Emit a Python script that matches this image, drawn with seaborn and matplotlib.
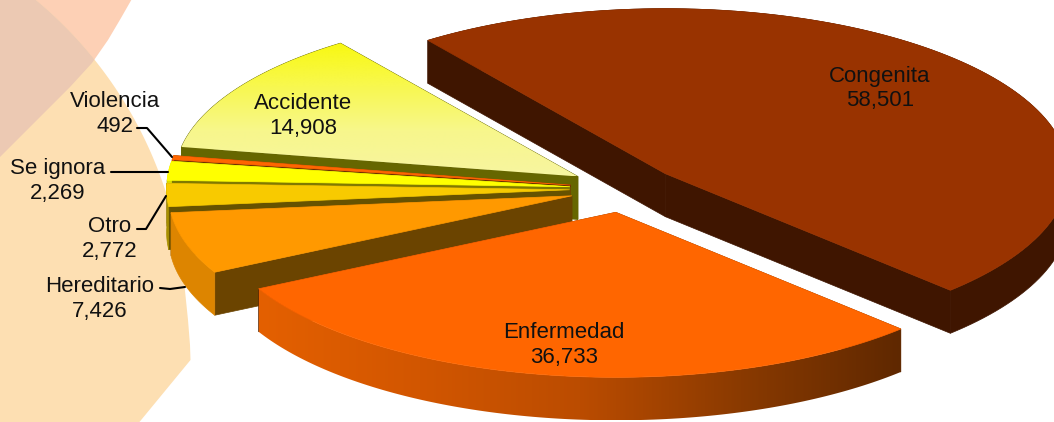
import numpy as np
import matplotlib
matplotlib.use("Agg")
import matplotlib.pyplot as plt
from matplotlib.colors import LinearSegmentedColormap
from matplotlib.patches import Polygon
import seaborn as sns

# slices, clockwise from the big one
categories = ["Congenita", "Enfermedad", "Hereditario", "Otro", "Se ignora", "Violencia", "Accidente"]
values = [58501, 36733, 7426, 2772, 2269, 492, 14908]

top_colors = ["#993300", "#ff6600", "#ff9900", "#f8ca00", "#ffff00", "#ff6600", "#ffff66"]
radial_colors = ["#3f1500", "#662b00", "#6b4400", "#665200", "#807a00", "#662b00", "#666600"]
arc_colors = ["#3f1500", "#dd5c00", "#dd8500", "#a89000", "#dcdc00", "#dd5800", "#666600"]

# back to front
draw_order = ["Congenita", "Accidente", "Violencia", "Se ignora", "Otro", "Hereditario", "Enfermedad"]

# pie geometry in pixels
CX, CY = 624, 189
RX, RY = 403, 165
DEPTH = 43
EXPLODE_X, EXPLODE_Y = 0.135, 0.143
START = 126.1

sns.set_theme(style="white")
plt.rcParams["font.family"] = ["Liberation Sans", "DejaVu Sans"]

fig = plt.figure(figsize=(10.54, 4.22), dpi=100)
ax = fig.add_axes([0, 0, 1, 1])
ax.set_xlim(0, 1054)
ax.set_ylim(422, 0)
ax.set_axis_off()


def gradient_fill(poly, colors, horizontal, zorder):
    poly = np.asarray(poly)
    x0, x1 = poly[:, 0].min(), poly[:, 0].max()
    y0, y1 = poly[:, 1].min(), poly[:, 1].max()
    ramp = np.linspace(0, 1, 256)
    grad = ramp[None, :] if horizontal else ramp[:, None]
    cmap = LinearSegmentedColormap.from_list("g", colors)
    im = ax.imshow(grad, extent=(x0, x1, y1, y0), aspect="auto", cmap=cmap,
                   zorder=zorder, interpolation="bilinear")
    clip = Polygon(poly, transform=ax.transData, fc="none", ec="none")
    ax.add_patch(clip)
    im.set_clip_path(clip)
    ax.set_xlim(0, 1054)
    ax.set_ylim(422, 0)


# background shapes
t = np.radians(np.linspace(-75, 25, 200))
peach_x = -230 + 416 * np.cos(t)
peach_y = 320 + 416 * np.sin(t)
keep = peach_y < 290
peach = np.column_stack([np.r_[peach_x[keep], 188, 190, 190.5, 137, -5],
                         np.r_[peach_y[keep], 320, 345, 360, 425, 425]])
peach = np.vstack([peach, [[-5, -5]]])
pink = [(133, -3), (121, 18), (108, 40), (92, 63), (70, 87), (45, 112), (-3, 160), (-3, -3)]
ax.add_patch(Polygon(pink, fc="#fdd0b5", ec="none", zorder=1))
peach_patch = Polygon(peach, fc="#fddfb2", ec="none", zorder=2)
ax.add_patch(peach_patch)
overlap = Polygon(pink, fc="#ecc9b3", ec="none", zorder=3)
ax.add_patch(overlap)
overlap.set_clip_path(peach_patch)

# angles from the values
total = sum(values)
sweeps = [v / total * 360 for v in values]
ends = START - np.cumsum(sweeps)
starts = ends + np.array(sweeps)

z = 10
for name in draw_order:
    i = categories.index(name)
    a0, a1 = starts[i], ends[i]
    mid = np.radians((a0 + a1) / 2)
    ox = CX + EXPLODE_X * RX * np.cos(mid)
    oy = CY - EXPLODE_Y * RY * np.sin(mid)
    th = np.radians(np.linspace(a0, a1, 120))
    ax_pts = np.column_stack([ox + RX * np.cos(th), oy - RY * np.sin(th)])
    apex = np.array([ox, oy])
    drop = np.array([0, DEPTH])

    # radial walls
    for p in (ax_pts[0], ax_pts[-1]):
        ax.fill([apex[0], p[0], p[0], apex[0]],
                [apex[1], p[1], p[1] + DEPTH, apex[1] + DEPTH],
                color=radial_colors[i], lw=0.5, zorder=z)
    z += 1

    # outer wall
    wall = np.vstack([ax_pts, (ax_pts + drop)[::-1]])
    if name == "Enfermedad":
        gradient_fill(wall, ["#e46000", "#d25600", "#bb4c00", "#8a3a00", "#5f2800"], True, z)
    else:
        ax.fill(wall[:, 0], wall[:, 1], color=arc_colors[i], lw=0.5, zorder=z)
    z += 1

    # top
    top = np.vstack([apex, ax_pts])
    if name == "Accidente":
        gradient_fill(top, ["#f8f810", "#f8f850", "#f7f78c", "#f7f5a0"], False, z)
    else:
        ax.fill(top[:, 0], top[:, 1], color=top_colors[i], lw=0.5, zorder=z)
    z += 1

# labels
label_pos = {
    "Congenita": (880, 88.5),
    "Enfermedad": (564, 345),
    "Accidente": (303, 116),
    "Violencia": (115, 114),
    "Se ignora": (58, 181),
    "Otro": (110, 239),
    "Hereditario": (100, 299),
}
for name, v in zip(categories, values):
    x, y = label_pos[name]
    ax.text(x, y, f"{name}\n{v:,}", ha="center", va="center", fontsize=16,
            color="#111111", linespacing=1.22, zorder=100)

# leader lines
leaders = [
    [(137, 128), (147, 128), (172, 157)],
    [(111, 172), (168, 172)],
    [(137, 229), (146, 229), (166, 196)],
    [(160, 288), (170, 289), (185, 287)],
]
for pts in leaders:
    xs, ys = zip(*pts)
    ax.plot(xs, ys, color="black", lw=1.5, zorder=100)

fig.savefig("out.png", dpi=100)
